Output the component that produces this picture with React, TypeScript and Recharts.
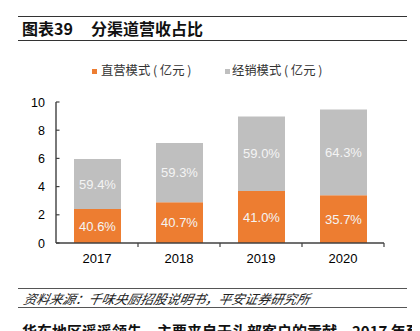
import React from "react";
import { BarChart, Bar, XAxis, YAxis, LabelList } from "recharts";

const years = ["2017", "2018", "2019", "2020"];
const directRevenue = [2.42, 2.89, 3.68, 3.38];
const distributionRevenue = [3.54, 4.21, 5.30, 6.09];
const directShareLabels = ["40.6%", "40.7%", "41.0%", "35.7%"];
const distributionShareLabels = ["59.4%", "59.3%", "59.0%", "64.3%"];
const yTicks = [0, 2, 4, 6, 8, 10];

const data = years.map((y, i) => ({
  year: y,
  direct: directRevenue[i],
  dist: distributionRevenue[i],
  directPct: directShareLabels[i],
  distPct: distributionShareLabels[i],
}));

const FONT = "'Liberation Sans', Arial, 'Noto Sans CJK SC', sans-serif";
const CJK = "'Noto Sans CJK SC', 'Liberation Sans', sans-serif";

const PLOT_LEFT = 56;
const PLOT_RIGHT = 384;
const PLOT_TOP = 102;
const PLOT_BOTTOM = 243;
const BAND = (PLOT_RIGHT - PLOT_LEFT) / years.length;
const AXIS_COLOR = "#404040";

const YTick = (props: any) => {
  const { x, y, payload } = props;
  return (
    <g>
      <line x1={PLOT_LEFT} x2={PLOT_LEFT + 3.5} y1={y} y2={y} stroke={AXIS_COLOR} strokeWidth={1.2} />
      <text x={x} y={y} dy={4.5} textAnchor="end" fontSize={12.5} fill="#000" fontFamily={FONT}>
        {payload.value}
      </text>
    </g>
  );
};

const XTick = (props: any) => {
  const { x, y, payload } = props;
  const right = x + BAND / 2;
  return (
    <g>
      <line x1={right} x2={right} y1={PLOT_BOTTOM} y2={PLOT_BOTTOM + 4} stroke={AXIS_COLOR} strokeWidth={1.2} />
      <text x={x} y={y} dy={12} textAnchor="middle" fontSize={13} fill="#000" fontFamily={FONT}>
        {payload.value}
      </text>
    </g>
  );
};

export default function App() {
  return (
    <div style={{ position: "relative", width: 420, height: 331, margin: "-8px 0 0 -8px", background: "#fff", overflow: "hidden" }}>
      {/* title */}
      <div style={{ position: "absolute", left: 18, top: 16, width: 389, height: 0, borderTop: "1.6px solid #333" }} />
      <div style={{ position: "absolute", left: 22, top: 19, fontFamily: CJK, fontWeight: 700, fontSize: 16, lineHeight: "19px", color: "#111", whiteSpace: "pre" }}>
        <span>图表39</span>
        <span style={{ marginLeft: 18 }}>分渠道营收占比</span>
      </div>
      <div style={{ position: "absolute", left: 18, top: 40, width: 389, height: 0, borderTop: "1.6px solid #333" }} />

      {/* legend */}
      <div style={{ position: "absolute", left: 92, top: 68.5, width: 5, height: 5, background: "#ED7D31" }} />
      <div style={{ position: "absolute", left: 101, top: 62, fontFamily: CJK, fontSize: 12.3, lineHeight: "16px", color: "#333", whiteSpace: "pre" }}>直营模式 ( 亿元 )</div>
      <div style={{ position: "absolute", left: 225, top: 68.5, width: 5, height: 5, background: "#BFBFBF" }} />
      <div style={{ position: "absolute", left: 232, top: 62, fontFamily: CJK, fontSize: 12.3, lineHeight: "16px", color: "#333", whiteSpace: "pre" }}>经销模式 ( 亿元 )</div>

      <div style={{ position: "absolute", left: 0, top: 0 }}>
        <BarChart
          width={420}
          height={331}
          data={data}
          barSize={47}
          margin={{ top: PLOT_TOP, left: PLOT_LEFT - 40, right: 420 - PLOT_RIGHT, bottom: 331 - PLOT_BOTTOM - 30 }}
        >
          <YAxis
            width={40}
            domain={[0, 10]}
            ticks={yTicks}
            interval={0}
            tickLine={false}
            tickSize={0}
            tickMargin={11}
            axisLine={{ stroke: AXIS_COLOR, strokeWidth: 1.4 }}
            tick={<YTick />}
          />
          <XAxis
            dataKey="year"
            height={30}
            tickLine={false}
            tickSize={0}
            tickMargin={8}
            axisLine={{ stroke: AXIS_COLOR, strokeWidth: 1.4 }}
            tick={<XTick />}
          />
          <Bar dataKey="direct" stackId="a" fill="#ED7D31" isAnimationActive={false}>
            <LabelList dataKey="directPct" position="center" fill="#F4F4F4" fontSize={13} fontFamily={FONT} />
          </Bar>
          <Bar dataKey="dist" stackId="a" fill="#BFBFBF" isAnimationActive={false}>
            <LabelList dataKey="distPct" position="center" fill="#F4F4F4" fontSize={13} fontFamily={FONT} />
          </Bar>
        </BarChart>
      </div>

      {/* source */}
      <div style={{ position: "absolute", left: 18, top: 288, width: 389, height: 0, borderTop: "1.6px solid #555" }} />
      <div style={{ position: "absolute", left: 22, top: 290, fontFamily: CJK, fontStyle: "italic", fontSize: 13, lineHeight: "17px", color: "#222", whiteSpace: "pre", transform: "skewX(-12deg)", transformOrigin: "0 100%" }}>资料来源：千味央厨招股说明书，平安证券研究所</div>
      <div style={{ position: "absolute", left: 18, top: 307, width: 389, height: 0, borderTop: "1.6px solid #555" }} />

      {/* following paragraph, cut off */}
      <div style={{ position: "absolute", left: 22, top: 322, fontFamily: CJK, fontWeight: 700, fontSize: 15, lineHeight: "18px", color: "#111", whiteSpace: "pre" }}>华东地区遥遥领先，主要来自于头部客户的贡献。2017 年至</div>
    </div>
  );
}
